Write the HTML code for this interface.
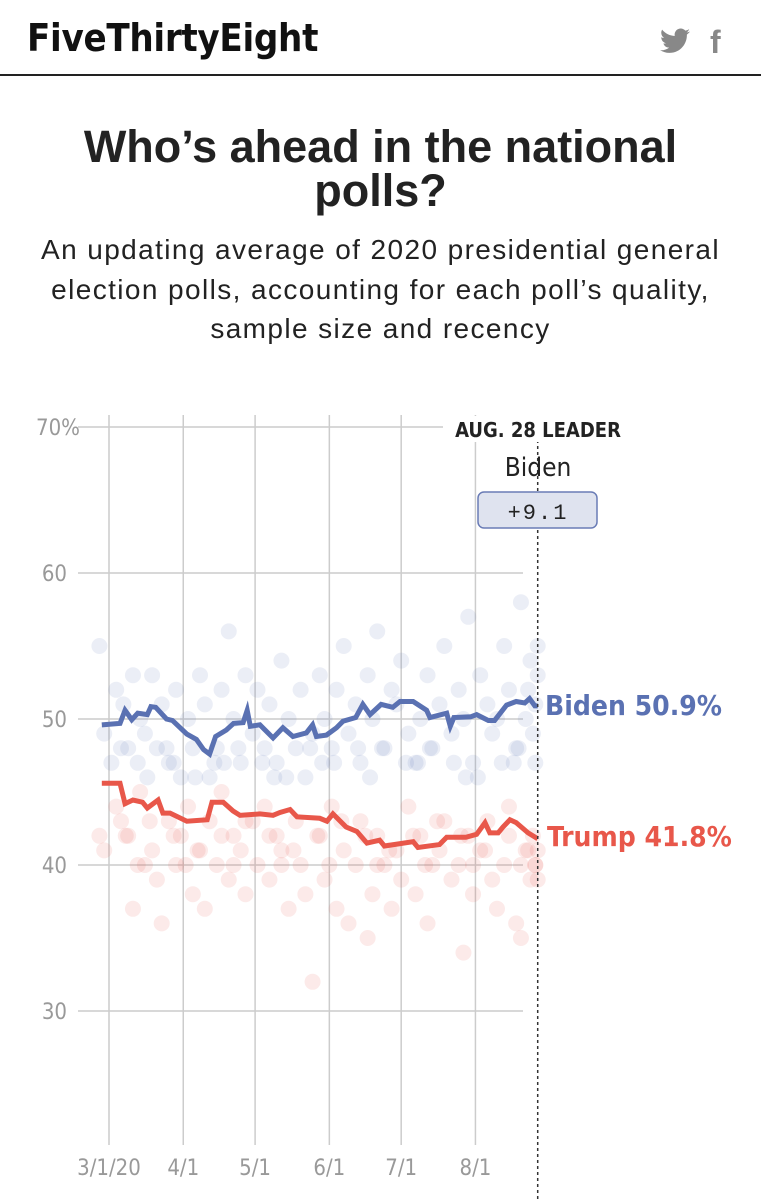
<!DOCTYPE html>
<html><head><meta charset="utf-8">
<style>
body{margin:0;width:761px;height:1200px;background:#fff;overflow:hidden;font-family:"Liberation Sans",sans-serif;position:relative}
.hdr{position:absolute;left:0;top:0;width:761px;height:74px;border-bottom:2px solid #222}
.logo{position:absolute;left:27px;top:16px;font-family:"DejaVu Sans Condensed","Liberation Sans",sans-serif;font-weight:bold;font-size:38px;letter-spacing:-0.3px;color:#111}
.title{position:absolute;left:0;width:761px;top:125px;text-align:center;font-weight:bold;font-size:45px;line-height:44px;color:#222}
.sub{position:absolute;left:0;width:761px;top:230px;text-align:center;font-size:28px;line-height:39.5px;color:#222;letter-spacing:1.4px}
svg{position:absolute;left:0;top:0}
.cond{font-family:"DejaVu Sans Condensed","Liberation Sans",sans-serif}
</style></head><body>
<div class="hdr">
 <div class="logo">FiveThirtyEight</div>
 <svg width="30" height="26" style="left:660px;top:28px" viewBox="0 0 24 20"><path d="M24 2.4c-.9.4-1.800.6-2.8.8 1-.6 1.8-1.6 2.2-2.7-1 .6-2 1-3.1 1.2C19.3.7 18 0 16.6 0c-2.7 0-4.900 2.2-4.900 4.9 0 .4 0 .8.1 1.1C7.7 5.8 4.1 3.9 1.7.9c-.4.7-.7 1.6-.7 2.5 0 1.7.9 3.2 2.2 4.1-.8 0-1.6-.2-2.2-.6v.1c0 2.4 1.7 4.4 3.900 4.8-.4.1-.8.2-1.3.2-.3 0-.6 0-.9-.1.6 2 2.4 3.4 4.6 3.4-1.7 1.3-3.8 2.1-6.1 2.1-.4 0-.8 0-1.2-.1 2.2 1.4 4.8 2.2 7.5 2.2 9.1 0 14-7.5 14-14v-.6c1-.7 1.8-1.6 2.5-2.5z" fill="#888"/></svg>
 <div style="position:absolute;left:710px;top:24px;font-size:32px;font-weight:bold;color:#888;font-family:'Liberation Sans',sans-serif">f</div>
</div>
<div class="title">Who’s ahead in the national<br>polls?</div>
<div class="sub">An updating average of 2020 presidential general<br>election polls, accounting for each poll’s quality,<br>sample size and recency</div>

<svg id="chart" width="761" height="1200"></svg>

<script>
const yTicks=[70,60,50,40,30];
const yTickLabels=["70%","60","50","40","30"];
const xTickDays=[0,31,61,92,122,153];
const xTickLabels=["3/1/20","4/1","5/1","6/1","7/1","8/1"];
const leaderDay=179;
const bidenDays=[-3,4.6,6.7,9.5,12,16,17.5,19.5,24,26.5,32.5,36.5,39.5,42,44.5,49,52,56,57.7,59,63,68.5,72.6,76.8,82.4,85,86.6,90.8,95,97.7,103,106,109,113.6,118.5,121.5,127,132.6,134,141,142.5,144,151,153.5,158.4,161,166,170,173.6,175.6,177.8,179];
const bidenVals=[49.6,49.7,50.6,49.95,50.4,50.3,50.85,50.8,50.0,49.9,48.97,48.6,47.9,47.6,48.8,49.25,49.7,49.75,50.6,49.5,49.6,48.7,49.4,48.8,49.05,49.6,48.8,48.9,49.4,49.85,50.1,51.0,50.3,51.0,50.8,51.2,51.2,50.6,50.1,50.4,49.5,50.1,50.15,50.3,49.9,49.9,50.95,51.2,51.1,51.4,50.9,50.9];
const trumpDays=[-3,4.6,6.7,10,14,16,20.5,22.5,25.5,32.5,41,43,47.7,51.8,54.7,63,68.5,71.4,75.6,78.5,88,91,93.5,99,103.5,107.7,113,115,127,129,138,141,149,153.5,157,159,162.5,164.5,167.4,170,175,179];
const trumpVals=[45.6,45.6,44.2,44.45,44.3,43.9,44.45,43.55,43.55,43.0,43.1,44.3,44.3,43.7,43.4,43.5,43.4,43.6,43.8,43.3,43.2,43.0,43.5,42.6,42.3,41.5,41.7,41.3,41.6,41.2,41.4,41.9,41.9,42.1,42.9,42.2,42.2,42.6,43.1,42.9,42.2,41.8];
const bidenPollDays=[-4,-2,3,6,8,10,13,15,18,20,22,25,28,30,33,35,38,40,42,45,47,50,52,55,57,60,62,65,67,70,72,75,78,80,82,85,88,90,93,95,98,100,103,105,108,110,112,115,118,120,122,125,128,130,133,135,138,140,143,146,148,150,152,155,158,160,162,165,167,170,172,174,176,177,178,179,179,178,5,12,24,36,44,54,64,74,84,94,104,114,124,134,144,154,164,171,175,1,16,27,48,69,89,109,129,149,169];
const bidenPollVals=[55,49,52,51,48,53,50,49,53,48,51,47,52,46,50,48,53,51,46,48,52,56,50,47,53,49,52,48,51,47,54,50,48,52,46,49,53,50,48,52,55,49,51,47,53,50,56,48,52,51,54,49,47,50,53,48,51,55,49,52,50,57,47,53,51,49,50,55,52,48,58,50,54,49,47,53,55,51,48,47,48,46,47,48,47,46,48,47,48,48,47,48,47,46,47,48,52,47,46,47,47,46,47,46,47,46,47];
const trumpPollDays=[-4,-2,3,5,8,10,13,15,18,20,22,25,28,30,33,35,38,40,42,45,47,50,52,55,57,60,62,65,67,70,72,75,78,80,82,85,88,90,93,95,98,100,103,105,108,110,112,115,118,120,122,125,128,130,133,135,138,140,143,146,148,150,152,155,158,160,162,165,167,170,172,174,176,177,178,179,179,178,7,17,27,37,47,57,67,77,87,97,107,117,127,137,147,157,167,175,12,32,52,72,92,112,132,152,172];
const trumpPollVals=[42,41,44,43,42,37,45,40,41,39,36,43,40,42,44,38,41,37,43,40,45,39,42,41,38,43,40,44,39,42,41,37,43,40,38,32,42,39,44,37,41,36,40,43,35,38,42,40,37,41,39,44,38,42,36,40,41,43,39,40,34,42,38,41,43,39,37,40,44,36,35,41,39,42,40,39,41,40,42,43,42,41,42,43,42,41,42,43,42,41,42,43,42,41,42,41,40,40,40,40,40,40,40,40,40];

const svg=document.getElementById('chart');
const NS='http://www.w3.org/2000/svg';
const x=d=>109+d*2.395;
const y=v=>719-(v-50)*14.6;
function mk(tag,attrs){const e=document.createElementNS(NS,tag);for(const k in attrs)e.setAttribute(k,attrs[k]);svg.appendChild(e);return e;}

yTicks.forEach((t,i)=>{
 const l=mk('line',{x1:78,x2:523,y1:y(t),y2:y(t),stroke:'#ccc','stroke-width':1.5});
 
 
 const tx=mk('text',{x:i===0?80:67,y:y(t)+8,'text-anchor':'end',fill:'#999','font-size':22,class:'cond'});
 tx.textContent=yTickLabels[i];
 
 
});
xTickDays.forEach((d,i)=>{
 const l=mk('line',{x1:x(d),x2:x(d),y1:415,y2:1145,stroke:'#ccc','stroke-width':1.5});
 
 
 const tx=mk('text',{x:x(d),y:1175,'text-anchor':'middle',fill:'#999','font-size':22,class:'cond'});
 tx.textContent=xTickLabels[i];
 
 
});
trumpPollDays.forEach((d,i)=>{
 const c=mk('circle',{cx:x(d),cy:y(trumpPollVals[i]),r:8,fill:'#e8564a','fill-opacity':0.12});
 
 
});
bidenPollDays.forEach((d,i)=>{
 const c=mk('circle',{cx:x(d),cy:y(bidenPollVals[i]),r:8,fill:'#5a71b2','fill-opacity':0.12});
 
 
});
const tl=mk('polyline',{points:trumpDays.map((d,i)=>x(d)+','+y(trumpVals[i])).join(' '),fill:'none',stroke:'#e8574a','stroke-width':5,'stroke-linejoin':'miter'});


const bl=mk('polyline',{points:bidenDays.map((d,i)=>x(d)+','+y(bidenVals[i])).join(' '),fill:'none',stroke:'#5a71b2','stroke-width':5,'stroke-linejoin':'miter'});


const dl=mk('line',{x1:x(leaderDay),x2:x(leaderDay),y1:440,y2:1200,stroke:'#333','stroke-width':1.5,'stroke-dasharray':'3,3'});


const bg=mk('rect',{x:443,y:416,width:192,height:26,fill:'#fff'});


const lt=mk('text',{x:538,y:437,'text-anchor':'middle',fill:'#222','font-size':20,'font-weight':'bold',class:'cond'});
lt.textContent='AUG. 28 LEADER';


const ln=mk('text',{x:538,y:476,'text-anchor':'middle',fill:'#222','font-size':26,class:'cond'});
ln.textContent='Biden';


const bx=mk('rect',{x:478,y:492,width:119,height:36,rx:6,fill:'#dfe3ef',stroke:'#6a7cb6','stroke-width':1.5});


const mt=mk('text',{x:538,y:519,'text-anchor':'middle',fill:'#222','font-size':22,'font-family':'Liberation Mono, monospace','letter-spacing':2});
mt.textContent='+9.1';


const bt=mk('text',{x:545,y:715,fill:'#5a71b2','font-size':28,'font-weight':'bold',class:'cond'});
bt.textContent='Biden 50.9%';


const tt=mk('text',{x:547,y:846,fill:'#e8574a','font-size':28,'font-weight':'bold',class:'cond'});
tt.textContent='Trump 41.8%';


</script>
</body></html>
